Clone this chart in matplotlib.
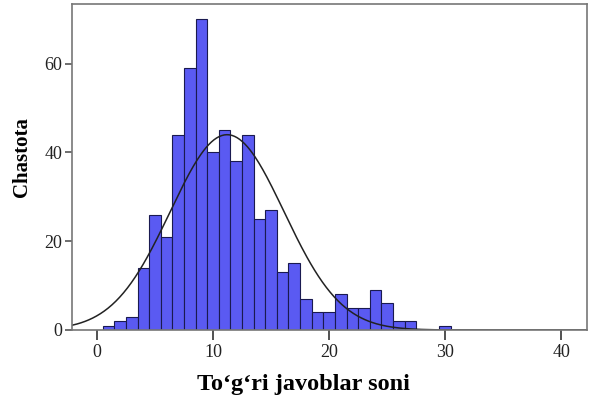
import numpy as np
import matplotlib
matplotlib.use("Agg")
import matplotlib.pyplot as plt

# histogram counts, one bin per score (bins centred on integers)
scores = [1, 2, 3, 4, 5, 6, 7, 8, 9, 10, 11, 12, 13, 14, 15, 16, 17, 18,
          19, 20, 21, 22, 23, 24, 25, 26, 27, 28, 29, 30]
counts = [1, 2, 3, 14, 26, 21, 44, 59, 70, 40, 45, 38, 44, 25, 27, 13, 15, 7,
          4, 4, 8, 5, 5, 9, 6, 2, 2, 0, 0, 1]
xticks = [0, 10, 20, 30, 40]
yticks = [0, 20, 40, 60]

scores = np.array(scores)
counts = np.array(counts)

plt.rcParams['font.family'] = ['Liberation Serif', 'DejaVu Serif']

fig = plt.figure(figsize=(6, 4), dpi=100)
ax = fig.add_axes([0.12, 0.175, 0.858, 0.815])

ax.bar(scores, counts, width=1.0, color='#5a5af2', edgecolor='#1a1a50', linewidth=0.8)

# normal curve fitted to the counts
n = counts.sum()
mean = (scores * counts).sum() / n
sd = np.sqrt(((scores - mean) ** 2 * counts).sum() / (n - 1))
xs = np.linspace(-2.15, 42.2, 400)
ys = n / (sd * np.sqrt(2 * np.pi)) * np.exp(-0.5 * ((xs - mean) / sd) ** 2)
ax.plot(xs, ys, color='#222222', linewidth=1.1)

ax.set_xlim(-2.15, 42.2)
ax.set_ylim(0, 73.4)
ax.set_xticks(xticks)
ax.set_yticks(yticks)
ax.tick_params(axis='x', direction='out', length=7, width=1.2, color='#333333',
               labelsize=13, pad=3, labelcolor='#222222')
ax.tick_params(axis='y', direction='out', length=5, width=1.2, color='#555555',
               labelsize=13, pad=2, labelcolor='#222222')
for s in ax.spines.values():
    s.set_color('#777777')
    s.set_linewidth(1.2)

ax.set_xlabel('To‘g‘ri javoblar soni', fontsize=17.5, fontweight='bold')
ax.xaxis.set_label_coords(0.45, -0.135)
ax.set_ylabel('Chastota', fontsize=15, fontweight='bold')
ax.yaxis.set_label_coords(-0.078, 0.53)

fig.savefig('out.png', dpi=100)
